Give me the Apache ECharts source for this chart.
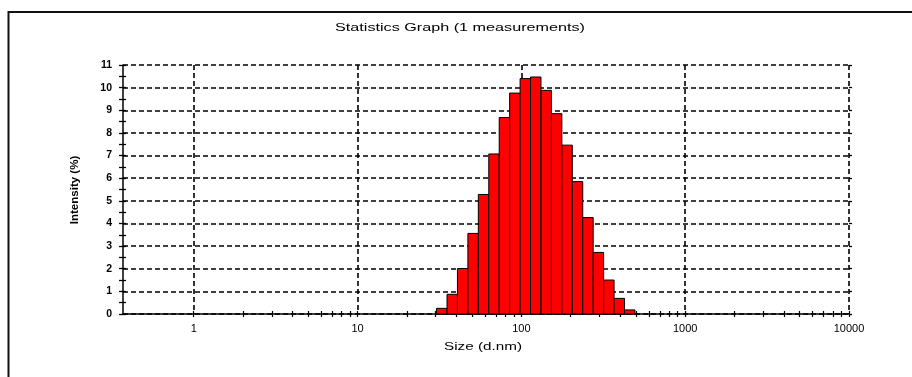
<!DOCTYPE html>
<html><head><meta charset="utf-8">
<script src="https://cdn.jsdelivr.net/npm/echarts@6/dist/echarts.min.js"></script>
<style>html,body{margin:0;padding:0;background:#fff}#c{width:912px;height:377px}</style>
</head><body><div id="c"></div>
<script>
// ---- data ----
const titleText = 'Statistics Graph (1 measurements)';
const xAxisName = 'Size (d.nm)';
const yAxisName = 'Intensity (%)';
// size-class boundaries (d.nm), one more than the number of bars
const binEdges = [30.36, 35.16, 40.72, 47.16, 54.61, 63.24, 73.24, 84.82, 98.23, 113.74,
  131.74, 152.59, 176.68, 204.6, 236.96, 274.41, 317.8, 368.06, 426.25, 493.6];
// intensity (%) per size class
const intensity = [0.25, 0.87, 2.01, 3.56, 5.28, 7.07, 8.68, 9.76, 10.40, 10.47,
  9.88, 8.85, 7.46, 5.85, 4.26, 2.72, 1.50, 0.69, 0.18];
const xMajorTicks = [1, 10, 100, 1000, 10000];
const xMinorTicks = [
  1, 2, 3, 4, 5, 6, 7, 8, 9,
  10, 20, 30, 40, 50, 60, 70, 80, 90,
  100, 200, 300, 400, 500, 600, 700, 800, 900,
  1000, 2000, 3000, 4000, 5000, 6000, 7000, 8000, 9000, 10000];
const xMin = 0.37, xMax = 10000;
const yMin = 0, yMax = 11, yStep = 1;

// ---- build ----
const bars = intensity.map((v, i) => [binEdges[i], binEdges[i + 1], v]);

const FONT = '"Liberation Sans", Arial, sans-serif';
const mctx = document.createElement('canvas').getContext('2d');
function fitScale(text, size, target) {
  mctx.font = size + 'px ' + FONT;
  return target / mctx.measureText(text).width;
}

const dash = { color: '#000', width: 1.6, type: [5, 3] };
const baseLog = { type: 'log', logBase: 10, min: xMin, max: xMax, gridIndex: 0, position: 'bottom' };

const chart = echarts.init(document.getElementById('c'), null, { renderer: 'canvas' });
chart.setOption({
  animation: false,
  backgroundColor: '#fff',
  grid: { left: 123, right: 63, top: 65, bottom: 63, containLabel: false },
  xAxis: [
    Object.assign({}, baseLog, {
      axisLine: { show: true, lineStyle: { color: '#000', width: 1.5 } },
      axisTick: { show: false, customValues: xMajorTicks },
      axisLabel: { show: true, customValues: xMajorTicks, margin: 9, color: '#000', fontSize: 11, fontFamily: FONT,
        formatter: v => String(Math.round(v)) },
      splitLine: { show: true, lineStyle: dash },
      minorTick: { show: false }, minorSplitLine: { show: false }
    }),
    Object.assign({}, baseLog, {
      axisLine: { show: false },
      axisTick: { show: true, customValues: xMinorTicks, inside: false, length: 3, lineStyle: { color: '#000', width: 1.2 } },
      axisLabel: { show: false }, splitLine: { show: false }
    }),
    Object.assign({}, baseLog, {
      axisLine: { show: false },
      axisTick: { show: true, customValues: xMinorTicks, inside: true, length: 3, lineStyle: { color: '#000', width: 1.2 } },
      axisLabel: { show: false }, splitLine: { show: false }
    })
  ],
  yAxis: [
    {
      type: 'value', min: yMin, max: yMax, interval: yStep, position: 'left',
      axisLine: { show: true, lineStyle: { color: '#000', width: 1.5 } },
      axisTick: { show: true, inside: false, length: 4, lineStyle: { color: '#000', width: 1.3 } },
      minorTick: { show: true, splitNumber: 2, length: 4, lineStyle: { color: '#000', width: 1.3 } },
      axisLabel: { margin: 11, color: '#000', fontSize: 10.5, fontWeight: 'bold', fontFamily: FONT },
      splitLine: { show: true, lineStyle: dash }
    },
    {
      type: 'value', min: yMin, max: yMax, interval: yStep, position: 'left', offset: 0,
      axisLine: { show: false },
      axisTick: { show: true, inside: true, length: 3, lineStyle: { color: '#000', width: 1.3 } },
      minorTick: { show: true, splitNumber: 2, length: 3, lineStyle: { color: '#000', width: 1.3 } },
      axisLabel: { show: false }, splitLine: { show: false }
    },
    {
      type: 'value', min: yMin, max: yMax, interval: yStep, position: 'right', offset: 0,
      axisLine: { show: false },
      axisTick: { show: true, inside: false, length: 3, lineStyle: { color: '#000', width: 1.3 } },
      axisLabel: { show: false }, splitLine: { show: false }
    }
  ],
  series: [{
    type: 'custom',
    xAxisIndex: 0, yAxisIndex: 0,
    data: bars,
    encode: { x: [0, 1], y: 2 },
    renderItem: function (params, api) {
      const p0 = api.coord([api.value(0), 0]);
      const p1 = api.coord([api.value(1), api.value(2)]);
      return {
        type: 'rect',
        shape: { x: p0[0], y: p1[1], width: p1[0] - p0[0], height: p0[1] - p1[1] },
        style: { fill: '#ff0000', stroke: '#000', lineWidth: 1 }
      };
    }
  }],
  graphic: [
    { type: 'rect', shape: { x: 8.5, y: 12, width: 1200, height: 1000 }, style: { fill: 'none', stroke: '#111', lineWidth: 2 }, silent: true },
    { type: 'text', x: 460, y: 28, scaleX: fitScale(titleText, 10, 250),
      style: { text: titleText, font: '10px ' + FONT, fill: '#000', align: 'center', verticalAlign: 'middle' } },
    { type: 'text', x: 483, y: 347, scaleX: fitScale(xAxisName, 10.5, 78),
      style: { text: xAxisName, font: '10.5px ' + FONT, fill: '#000', align: 'center', verticalAlign: 'middle' } },
    { type: 'text', x: 75, y: 190, rotation: Math.PI / 2, scaleX: fitScale(yAxisName, 10.5, 64),
      style: { text: yAxisName, font: 'bold 10.5px ' + FONT, fill: '#000', align: 'center', verticalAlign: 'middle' } }
  ]
});
</script>
</body></html>
